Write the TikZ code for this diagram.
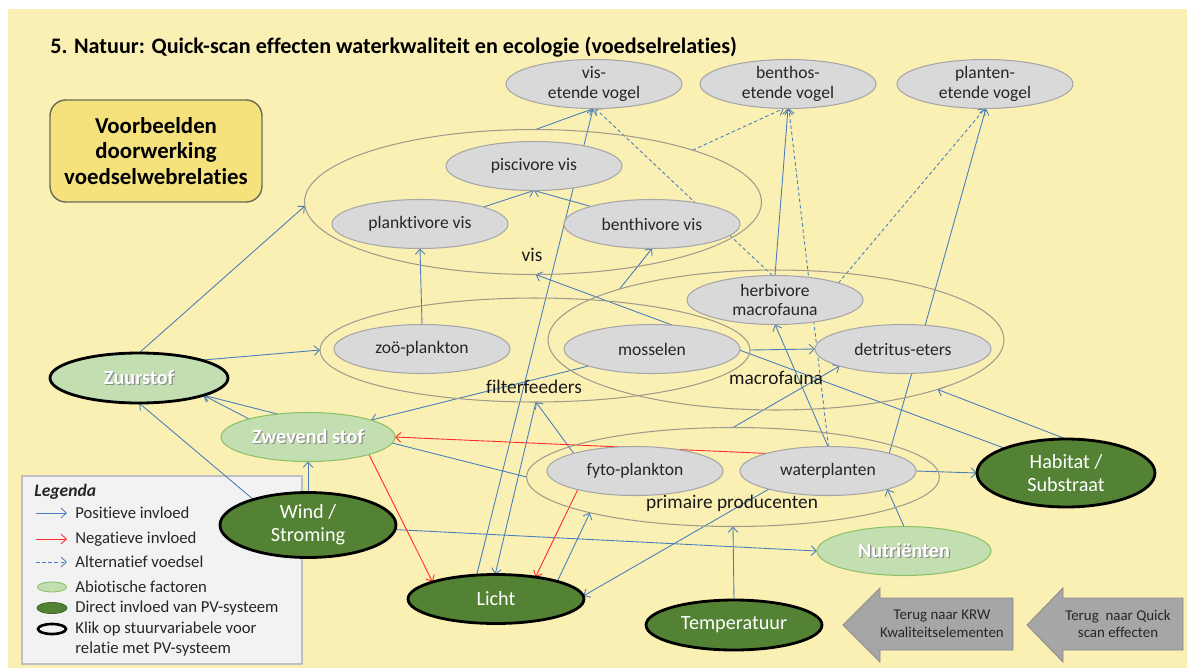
\documentclass[tikz,border=0pt]{standalone}
\usepackage{fontspec}
\setmainfont[Ligatures=NoCommon]{Carlito}
\usepackage{tikz}
\usetikzlibrary{shapes.geometric}
\usetikzlibrary{arrows.meta}
\definecolor{bgyellow}{HTML}{FAF0B4}
\definecolor{nodegray}{HTML}{D9D9D9}
\definecolor{nodeline}{HTML}{A6A6A6}
\definecolor{grpline}{HTML}{A09C8C}
\definecolor{abiogreen}{HTML}{C3DEB1}
\definecolor{abioline}{HTML}{8DC167}
\definecolor{pvgreen}{HTML}{538234}
\definecolor{posblue}{HTML}{4A7EBB}
\definecolor{negred}{HTML}{FF2A2A}
\definecolor{legendfill}{HTML}{F2F2F2}
\definecolor{legendline}{HTML}{BFBFBF}
\definecolor{vbfill}{HTML}{F5E27D}
\definecolor{vbline}{HTML}{6B6B5A}
\definecolor{backgray}{HTML}{A6A6A6}
\definecolor{backline}{HTML}{8C8C8C}
\pgfdeclarelayer{bg}
\pgfdeclarelayer{edges}
\pgfsetlayers{bg,edges,main}
\newcommand{\sdw}[1]{\rlap{\kern0.7pt\raisebox{-0.7pt}{\color{black!45}#1}}#1}
\tikzset{
  gnode/.style={ellipse, draw=nodeline, fill=nodegray, line width=0.6pt, minimum width=3.52cm, minimum height=0.98cm, inner sep=0pt, inner ysep=-2pt, outer sep=0pt, align=center, text=black!85, font=\fontsize{10}{11}\selectfont},
  grp/.style={ellipse, draw=grpline, line width=0.6pt, inner sep=0pt, outer sep=0pt},
  grplabel/.style={font=\fontsize{11}{13}\selectfont, text=black!90},
  abio/.style={ellipse, draw=abioline, fill=abiogreen, line width=0.6pt, minimum width=3.48cm, minimum height=0.98cm, inner sep=0pt, outer sep=0pt, text=white, font=\fontsize{11.5}{13}\selectfont\bfseries},
  pvnode/.style={ellipse, draw=black, fill=pvgreen, line width=1.6pt, minimum width=3.52cm, minimum height=0.98cm, inner sep=0pt, inner ysep=-2pt, outer sep=0pt, align=center, text=white, font=\fontsize{11.5}{13}\selectfont},
  ctrl/.style={draw=black, line width=1.6pt},
  posarrow/.style={->, draw=posblue, line width=0.5pt},
  negarrow/.style={->, draw=negred, line width=0.5pt},
  altarrow/.style={->, draw=posblue, line width=0.5pt, dash pattern=on 2pt off 1.5pt},
  backbox/.style={fill=backgray, draw=backline, line width=0.5pt},
  backtext/.style={align=center, text=black!85, font=\fontsize{8.5}{10}\selectfont},
  legtext/.style={anchor=west, inner sep=0pt, text=black!85, font=\fontsize{9.5}{11}\selectfont}
}

\begin{document}
\begin{tikzpicture}[x=0.02cm, y=-0.02cm, >={Straight Barb[length=3pt,width=5.5pt]}]
\useasboundingbox (0,0) rectangle (1187,670);
\begin{pgfonlayer}{bg}
  \fill[white] (0,0) rectangle (1187,670);
  \fill[bgyellow] (8,9) rectangle (1187,668);
  \draw[fill=legendfill, draw=legendline, line width=0.6pt] (22,476) rectangle (302,664);
\end{pgfonlayer}

% title
\node[anchor=west, inner sep=0pt, font=\fontsize{12.6}{14}\selectfont\bfseries] (title) at (50,47) {5. Natuur: Quick-scan effecten waterkwaliteit en ecologie (voedselrelaties)};
\node[draw=vbline, fill=vbfill, line width=0.8pt, rounded corners=9pt, minimum width=4.24cm, minimum height=2.04cm, align=center, font=\fontsize{13}{14.5}\selectfont\bfseries] (vb) at (156,151) {Voorbeelden\\doorwerking\\voedselwebrelaties};

% groups
\node[grp, minimum width=9.14cm, minimum height=2.9cm] (vis) at (533,202) {};
\node[grp, minimum width=8.6cm, minimum height=2.08cm] (filter) at (535,350) {};
\node[grp, minimum width=9.12cm, minimum height=2.8cm] (macro) at (776,340) {};
\node[grp, minimum width=8.26cm, minimum height=1.98cm] (prim) at (733,477) {};
\node[grplabel] (vislab) at (532,255) {vis};
\node[grplabel] (filterlab) at (534,387) {filterfeeders};
\node[grplabel] (macrolab) at (776,378) {macrofauna};
\node[grplabel] (primlab) at (732,503) {primaire producenten};

% birds
\node[gnode] (visvogel) at (594,84) {vis-\\etende vogel};
\node[gnode] (benthvogel) at (788,84) {benthos-\\etende vogel};
\node[gnode] (plantvogel) at (985,84) {planten-\\etende vogel};
% fish
\node[gnode] (pisci) at (534,166) {piscivore vis};
\node[gnode] (plankti) at (420,224) {planktivore vis};
\node[gnode] (benthi) at (652,224) {benthivore vis};
% filterfeeders and macrofauna
\node[gnode] (zoo) at (422,349) {zoö-plankton};
\node[gnode] (mossel) at (652,349) {mosselen};
\node[gnode] (herbi) at (775,300) {herbivore\\macrofauna};
\node[gnode] (detri) at (903,349) {detritus-eters};
% primary producers
\node[gnode] (fyto) at (635,471) {fyto-plankton};
\node[gnode] (waterpl) at (828,471) {waterplanten};

% abiotic factors
\node[abio, ctrl, minimum width=3.56cm, minimum height=1cm] (zuur) at (139,378) {\sdw{Zuurstof}};
\node[abio] (zwev) at (308,437) {\sdw{Zwevend stof}};
\node[abio] (nutri) at (904,551) {\sdw{Nutriënten}};
\node[pvnode, minimum height=1.3cm] (wind) at (308,525) {Wind /\\Stroming};
\node[pvnode] (licht) at (496,599) {Licht};
\node[pvnode, minimum height=1cm] (temp) at (734,625) {Temperatuur};
\node[pvnode, minimum width=3.56cm, minimum height=1.36cm] (habitat) at (1066,473) {Habitat /\\Substraat};

% back buttons
\draw[backbox] (843,625) -- (880,588) -- (880,598) -- (1013,598) -- (1013,650) -- (880,650) -- (880,662) -- cycle;
\node[backtext] (krw) at (942,624) {Terug naar KRW\\Kwaliteitselementen};
\draw[backbox] (1027,625) -- (1063,588) -- (1063,598) -- (1183,598) -- (1183,650) -- (1063,650) -- (1063,662) -- cycle;
\node[backtext] (quick) at (1118,624) {Terug\ \ naar Quick\\scan effecten};

% legend
\node[legtext, font=\fontsize{10}{12}\selectfont\bfseries\itshape] (legenda) at (34,492) {Legenda};
\draw[posarrow] (36,513) -- (67,513);
\draw[negarrow] (36,539) -- (67,539);
\draw[altarrow] (36,562) -- (67,562);
\draw[fill=abiogreen, draw=abioline, line width=0.5pt] (52,587) ellipse [x radius=0.29cm, y radius=0.1cm];
\draw[fill=pvgreen, draw=pvgreen!80!black, line width=0.5pt] (52,608) ellipse [x radius=0.3cm, y radius=0.11cm];
\draw[draw=black, line width=1.5pt] (52,629) ellipse [x radius=0.28cm, y radius=0.1cm];
\node[legtext] (l1) at (75,513) {Positieve invloed};
\node[legtext] (l2) at (75,539) {Negatieve invloed};
\node[legtext] (l3) at (75,562) {Alternatief voedsel};
\node[legtext] (l4) at (75,587) {Abiotische factoren};
\node[legtext] (l5) at (75,608) {Direct invloed van PV-systeem};
\node[legtext] (l6) at (75,629) {Klik op stuurvariabele voor};
\node[legtext] (l7) at (75,649) {relatie met PV-systeem};

\begin{pgfonlayer}{edges}
% food web
\draw[posarrow] (zoo.north) -- (plankti.south);
\draw[posarrow] (plankti.15) -- (pisci.south);
\draw[posarrow] (benthi.164) -- (pisci.south);
\draw[posarrow] (macro.162) -- (benthi.south);
\draw[posarrow] (vis.88) -- (visvogel.-91);
\draw[posarrow] (herbi.north) -- (benthvogel.south);
\draw[posarrow] (waterpl.16) -- (plantvogel.-88);
\draw[posarrow] (waterpl.north) -- (herbi.south);
\draw[posarrow] (filter.east) -- (detri.west);
\draw[posarrow] (prim.north) -- (detri.195);
\draw[posarrow] (fyto.164) -- (filter.-89);
% alternative food
\draw[altarrow] (herbi.96) -- (visvogel.-87);
\draw[altarrow] (waterpl.89) -- (benthvogel.-88);
\draw[altarrow] (vis.18) -- (benthvogel.-100);
\draw[altarrow] (herbi.15) -- (plantvogel.-90);
% abiotic
\draw[posarrow] (zuur.north) -- (vis.181);
\draw[posarrow] (zuur.16) -- (filter.west);
\draw[posarrow] (zwev.163) -- (zuur.-15);
\draw[posarrow] (prim.west) -- (zuur.-15);
\draw[posarrow] (wind.155) -- (zuur.south);
\draw[posarrow] (wind.north) -- (zwev.south);
\draw[posarrow] (wind.-3) -- (nutri.west);
\draw[posarrow] (mossel.195) -- (zwev.15);
\draw[posarrow] (licht.16) -- (prim.194);
\draw[posarrow] (waterpl.197) -- (licht.2);
\draw[posarrow] (licht.129) -- (visvogel.-92);
\draw[posarrow] (filter.-89) -- (licht.92);
\draw[posarrow] (temp.north) -- (prim.south);
\draw[posarrow] (nutri.north) -- (waterpl.-17);
\draw[posarrow] (waterpl.east) -- (habitat.west);
\draw[posarrow] (habitat.north) -- (macro.-17);
\draw[posarrow] (habitat.158) -- (vis.-88);
\draw[negarrow] (zwev.-16) -- (licht.165);
\draw[negarrow] (waterpl.164) -- (zwev.east);
\draw[negarrow] (fyto.198) -- (licht.29);
\end{pgfonlayer}
\end{tikzpicture}
\end{document}
